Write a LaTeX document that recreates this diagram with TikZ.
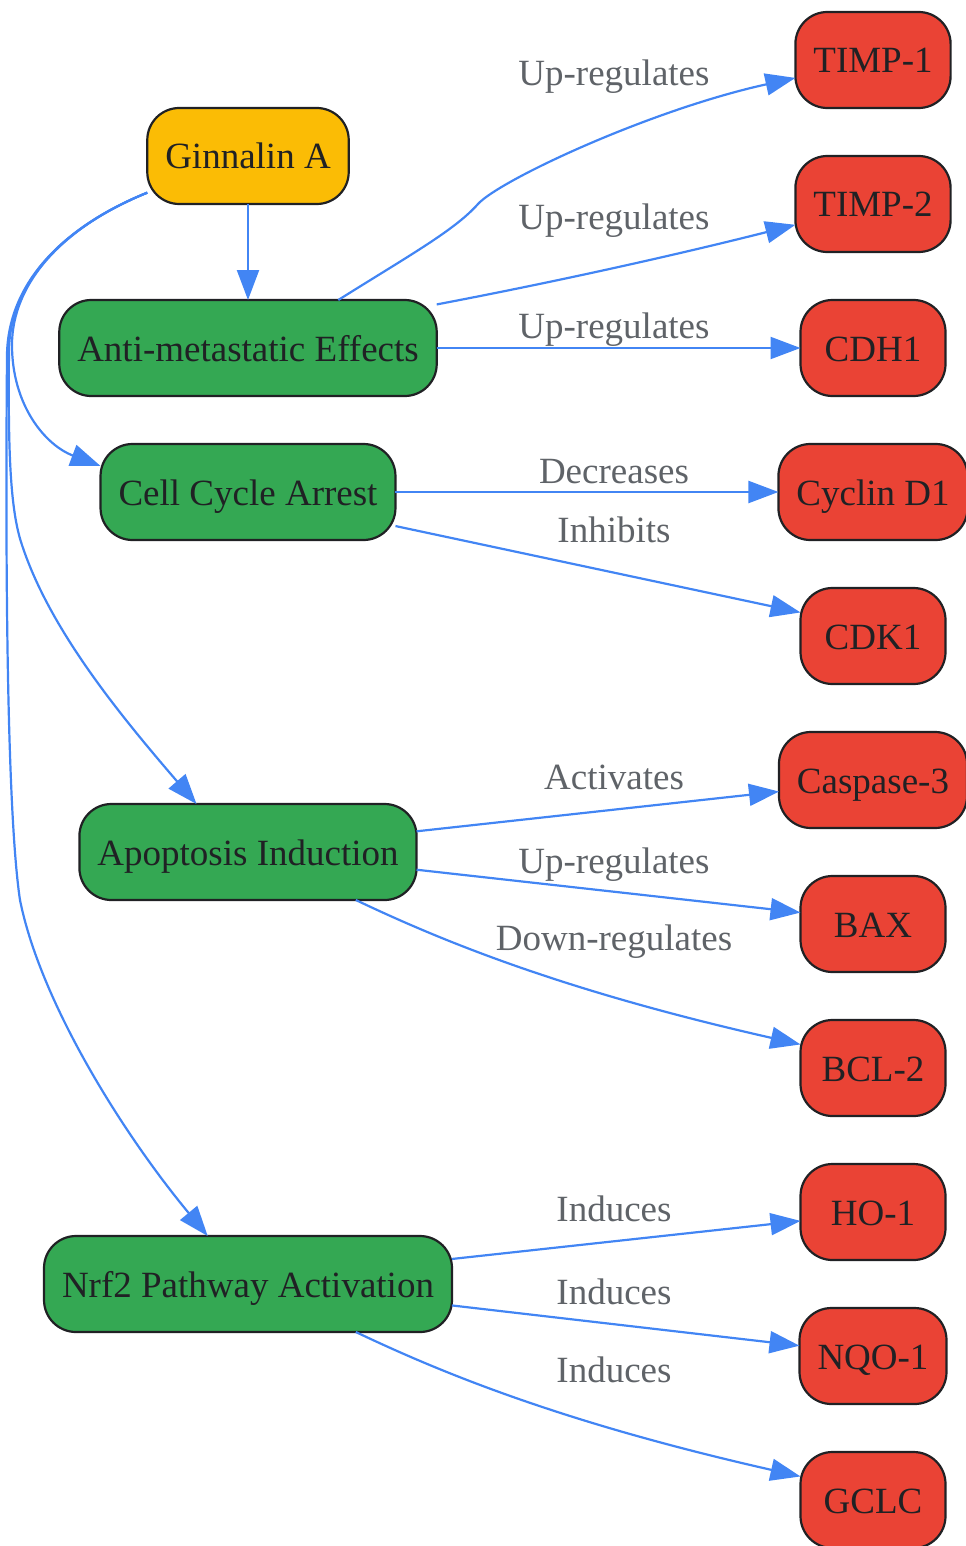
\documentclass[tikz,border=0pt]{standalone}
\usepackage{fontspec}
\setmainfont{Liberation Serif}
\usepackage{xcolor}
\usepackage{tikz}
\usetikzlibrary{arrows.meta, positioning}

\definecolor{gyellow}{HTML}{FBBC05}
\definecolor{ggreen}{HTML}{34A853}
\definecolor{gred}{HTML}{EA4335}
\definecolor{gblue}{HTML}{4285F4}
\definecolor{ink}{HTML}{202124}
\definecolor{lblgrey}{HTML}{5F6368}

\begin{document}
\begin{tikzpicture}[
  x=0.5pt, y=-0.5pt,
  box/.style={rectangle, draw=ink, line width=1.1pt, rounded corners=16pt, minimum width=72.5pt, minimum height=48pt, inner xsep=9pt, outer sep=0pt, text=ink, font=\fontsize{18.5}{22}\selectfont, text height=13.5pt, text depth=0.5pt},
  effect/.style={box, fill=ggreen},
  target/.style={box, fill=gred},
  lbl/.style={anchor=base, text=lblgrey, font=\fontsize{18.5}{22}\selectfont},
  arrow/.style={-{Triangle[length=15pt, width=11pt]}, line width=1.1pt, gblue}
]
\useasboundingbox (0,0) rectangle (965,1546);

% Compound and its effects (left column)
\node[box, fill=gyellow] (gin) at (248,156) {Ginnalin A};
\node[effect, below=48pt of gin] (anti) {Anti-metastatic Effects};
\node[effect, below=24pt of anti] (cellcycle) {Cell Cycle Arrest};
\node[effect, below=132pt of cellcycle] (apoptosis) {Apoptosis Induction};
\node[effect, below=168pt of apoptosis] (nrf2) {Nrf2 Pathway Activation};

% Molecular targets (right column)
\node[target] (timp1) at (873,60) {TIMP-1};
\node[target, below=24pt of timp1] (timp2) {TIMP-2};
\node[target, below=24pt of timp2] (cdh1) {CDH1};
\node[target, below=24pt of cdh1] (cyclind1) {Cyclin D1};
\node[target, below=24pt of cyclind1] (cdk1) {CDK1};
\node[target, below=24pt of cdk1] (casp3) {Caspase-3};
\node[target, below=24pt of casp3] (bax) {BAX};
\node[target, below=24pt of bax] (bcl2) {BCL-2};
\node[target, below=24pt of bcl2] (ho1) {HO-1};
\node[target, below=24pt of ho1] (nqo1) {NQO-1};
\node[target, below=24pt of nqo1] (gclc) {GCLC};

% Edge labels
\node[lbl] (uptimp1) at (614,86) {Up-regulates};
\node[lbl] (uptimp2) at (614,230) {Up-regulates};
\node[lbl] (upcdh1) at (614,338) {Up-regulates};
\node[lbl] (deccyc) at (614,483) {Decreases};
\node[lbl] (inhcdk) at (614,542) {Inhibits};
\node[lbl] (actcasp) at (614,789) {Activates};
\node[lbl] (upbax) at (614,873) {Up-regulates};
\node[lbl] (downbcl) at (614,950) {Down-regulates};
\node[lbl] (indho) at (614,1221) {Induces};
\node[lbl] (indnqo) at (614,1304) {Induces};
\node[lbl] (indgclc) at (614,1382) {Induces};

% Arrows - from Ginnalin A
\draw[arrow] (gin) -- (anti);
\draw[arrow] (gin.200) .. controls (60,228) and (12,285) .. (12,345)
  .. controls (12,405) and (45,445) .. (cellcycle.170);
\draw[arrow] (gin.200) .. controls (60,228) and (10,285) .. (9,350)
  .. controls (8,450) and (10,510) .. (22,545)
  .. controls (50,630) and (120,715) .. (apoptosis.137);
\draw[arrow] (gin.200) .. controls (60,228) and (8,285) .. (7,355)
  .. controls (5,600) and (8,820) .. (20,900)
  .. controls (40,1000) and (120,1130) .. (nrf2.130);

% Arrows - anti-metastatic
\draw[arrow] (anti.28) .. controls (410,255) and (455,230) .. (478,204)
  .. controls (500,180) and (650,110) .. (timp1.193);
\draw[arrow] (anti.13) .. controls (560,281) and (680,254) .. (timp2.195);
\draw[arrow] (anti) -- (cdh1);

% Arrows - cell cycle
\draw[arrow] (cellcycle) -- (cyclind1);
\draw[arrow] (cellcycle.-13) -- (cdk1.162);

% Arrows - apoptosis
\draw[arrow] (apoptosis.7) -- (casp3.187);
\draw[arrow] (apoptosis.-6) -- (bax.171);
\draw[arrow] (apoptosis.-24) .. controls (440,940) and (560,990) .. (bcl2.162);

% Arrows - Nrf2
\draw[arrow] (nrf2.7) -- (ho1.187);
\draw[arrow] (nrf2.-6) -- (nqo1.172);
\draw[arrow] (nrf2.-24) .. controls (440,1372) and (560,1422) .. (gclc.162);

\end{tikzpicture}
\end{document}
